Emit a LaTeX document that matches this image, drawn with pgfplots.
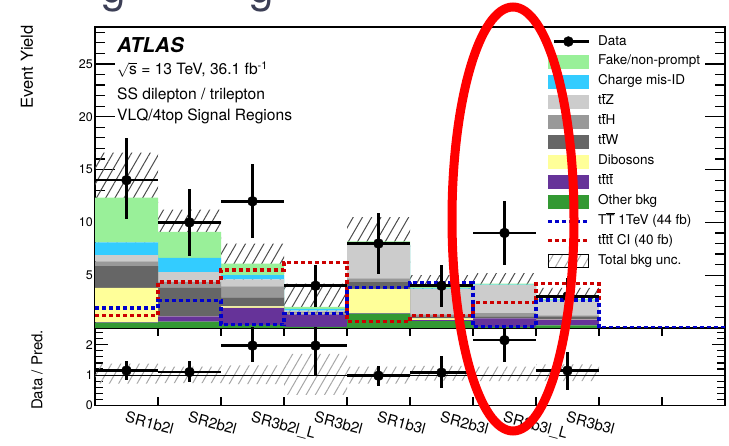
\documentclass[border=0pt]{standalone}
\usepackage{fontspec}
\setmainfont{TeX Gyre Heros}
\usepackage{pgfplots}
\pgfplotsset{compat=1.18}
\usepackage{pgfplotstable}
\usetikzlibrary{patterns.meta}
\usepgfplotslibrary{fillbetween}

\definecolor{cFake}{RGB}{153,240,153}
\definecolor{cQmis}{RGB}{51,204,255}
\definecolor{cttZ}{RGB}{204,204,204}
\definecolor{cttH}{RGB}{153,153,153}
\definecolor{cttW}{RGB}{102,102,102}
\definecolor{cDib}{RGB}{255,255,153}
\definecolor{cFour}{RGB}{102,51,153}
\definecolor{cOther}{RGB}{51,153,51}
\definecolor{cSigT}{RGB}{0,0,204}
\definecolor{cSigF}{RGB}{204,0,0}
\definecolor{titlegray}{RGB}{60,63,86}

% antiparticle bars
\newcommand{\tb}{\ensuremath{\overline{\mbox{t}}}}
\newcommand{\Tb}{\ensuremath{\overline{\mbox{T}}}}

% background yields per process (bin index in x, last row closes the step)
\pgfplotstableread{
x other four dib ttW ttH ttZ qmis fake
0 0.50 0.05 3.25 2.05 0.45 0.60 1.20 4.25
1 0.60 0.50 0.02 2.68 0.60 0.90 1.35 2.45
2 0.30 1.60 0.15 0.85 1.05 0.65 0.40 1.10
3 0.10 1.20 0.05 0.10 0.10 0.10 0.15 0.20
4 1.35 0.05 2.30 0.65 0.35 3.15 0.05 0.30
5 0.65 0.10 0.15 0.20 0.20 2.40 0.05 0.20
6 0.10 0.80 0.02 0.18 0.30 2.65 0.05 0.10
7 0.25 0.55 0.02 0.28 0.10 1.40 0.05 0.10
8 0.25 0.55 0.02 0.28 0.10 1.40 0.05 0.10
}\bkg

% total background uncertainty: yield band and ratio band
\pgfplotstableread{
x lo hi rlo rhi
0 8.1 16.6 0.72 1.38
1 7.0 11.2 0.74 1.28
2 4.2 8.0 0.70 1.32
3 0.7 4.2 0.35 1.70
4 5.9 10.5 0.72 1.28
5 2.9 5.0 0.82 1.30
6 3.2 5.2 0.80 1.28
7 1.7 3.8 0.80 1.35
8 1.7 3.8 0.80 1.35
}\unc

% signal hypotheses
\pgfplotstableread{
x TT tttt
0 1.90 1.20
1 2.60 4.35
2 0.30 5.50
3 1.35 6.20
4 3.80 0.65
5 4.30 1.20
6 0.15 2.40
7 2.65 4.20
8 0 0
9 0 0
10 0 0
}\sig

% observed events and data/prediction
\pgfplotstableread{
x y em ep r rem rep
0.5 14 3.7 4.0 1.15 0.31 0.31
1.5 10 3.15 3.2 1.10 0.33 0.35
2.5 12 3.45 3.5 1.97 0.55 0.60
3.5 4 2.0 2.0 1.97 0.97 0.60
4.5 8 2.85 2.9 0.98 0.33 0.33
5.5 4 2.0 1.95 1.08 0.52 0.55
6.5 9 3.0 3.05 2.15 0.71 0.39
7.5 3 1.7 1.7 1.15 0.64 0.62
}\obs

\pgfplotsset{
  panel/.style={
    scale only axis, width=630pt, xmin=0, xmax=10,
    axis line style={line width=1.3pt},
    tick style={line width=1.2pt, black},
    tick align=inside, xtick pos=both, ytick pos=both,
    ticklabel style={font=\fontsize{12.5}{15}\selectfont},
    /pgf/number format/assume math mode=true,
  },
  box/.style={legend image code/.code={\fill[#1] (0pt,-6.5pt) rectangle (40pt,6.5pt);}},
  dline/.style={legend image code/.code={\draw[#1] (0pt,0pt) -- (40pt,0pt);}},
}

\begin{document}
\begin{tikzpicture}[x=1pt,y=1pt]

% stacked backgrounds
\begin{axis}[panel, height=301pt, at={(95pt,117pt)}, anchor=south west,
  ymin=0, ymax=28.5, hide axis, stack plots=y, const plot]
\addplot[fill=cOther, draw=none] table[x=x,y=other]{\bkg} \closedcycle;
\addplot[fill=cFour, draw=none] table[x=x,y=four]{\bkg} \closedcycle;
\addplot[fill=cDib, draw=none] table[x=x,y=dib]{\bkg} \closedcycle;
\addplot[fill=cttW, draw=none] table[x=x,y=ttW]{\bkg} \closedcycle;
\addplot[fill=cttH, draw=none] table[x=x,y=ttH]{\bkg} \closedcycle;
\addplot[fill=cttZ, draw=none] table[x=x,y=ttZ]{\bkg} \closedcycle;
\addplot[fill=cQmis, draw=none] table[x=x,y=qmis]{\bkg} \closedcycle;
\addplot[fill=cFake, draw=none] table[x=x,y=fake]{\bkg} \closedcycle;
\end{axis}

% uncertainties, signals, data, frame and legend
\begin{axis}[panel, height=301pt, at={(95pt,117pt)}, anchor=south west,
  ymin=0, ymax=28.5,
  ytick={0,5,...,25}, yticklabels={,5,10,15,20,25},
  minor ytick={0,...,28}, xtick=\empty, minor xtick={0,...,10},
  major tick length=20pt, minor tick length=10pt,
  yticklabel style={inner sep=2pt},
  legend style={at={(0.716,0.974)}, anchor=north west, draw=none, fill=none,
    inner sep=0pt, row sep=6.6pt, column sep=8pt,
    font=\fontsize{13.5}{16}\selectfont,
    nodes={inner sep=0pt, text height=10pt, text depth=3pt}},
  legend cell align=left]
\addlegendimage{legend image code/.code={\draw[black,line width=2.6pt] (6pt,0pt)--(41pt,0pt); \fill[black] (20.5pt,0pt) circle (5pt);}}
\addlegendentry{Data}
\addlegendimage{box=cFake}\addlegendentry{Fake/non-prompt}
\addlegendimage{box=cQmis}\addlegendentry{Charge mis-ID}
\addlegendimage{box=cttZ}\addlegendentry{t\tb Z}
\addlegendimage{box=cttH}\addlegendentry{t\tb H}
\addlegendimage{box=cttW}\addlegendentry{t\tb W}
\addlegendimage{box=cDib}\addlegendentry{Dibosons}
\addlegendimage{box=cFour}\addlegendentry{t\tb t\tb}
\addlegendimage{box=cOther}\addlegendentry{Other bkg}
\addlegendimage{dline={cSigT,line width=3.2pt,dash pattern=on 4pt off 3pt}}\addlegendentry{T\Tb\ 1TeV (44 fb)}
\addlegendimage{dline={cSigF,line width=3.2pt,dash pattern=on 4pt off 3pt}}\addlegendentry{t\tb t\tb\ CI (40 fb)}
\addlegendimage{legend image code/.code={\fill[pattern={Lines[angle=60,distance=8pt,line width=1pt]}, pattern color=black!35] (0pt,-6.5pt) rectangle (40pt,6.5pt);}}
\addlegendentry{Total bkg unc.}

\addplot[draw=none, name path=uhi, const plot, forget plot] table[x=x,y=hi]{\unc};
\addplot[draw=none, name path=ulo, const plot, forget plot] table[x=x,y=lo]{\unc};
\addplot[pattern={Lines[angle=60,distance=8pt,line width=1pt]}, pattern color=black!70, forget plot] fill between[of=uhi and ulo];

\addplot[const plot, cSigF, line width=3.2pt, dash pattern=on 4pt off 3pt, forget plot] table[x=x,y=tttt]{\sig};
\addplot[const plot, cSigT, line width=3.2pt, dash pattern=on 4pt off 3pt, forget plot] table[x=x,y=TT]{\sig};

\addplot[only marks, mark=*, mark size=5pt, black, forget plot,
  error bars/.cd, y dir=both, y explicit, x dir=both, x fixed=0.5,
  error mark=none, error bar style={line width=2.6pt}]
  table[x=x, y=y, y error plus=ep, y error minus=em]{\obs};
\end{axis}

% ratio panel
\begin{axis}[panel, height=77.5pt, at={(95pt,39.5pt)}, anchor=south west,
  ymin=0, ymax=2.55,
  ytick={0,1,2}, minor ytick={0,0.2,...,2.4},
  xtick={0.5,1.5,...,7.5},
  xticklabels={SR1b2l,SR2b2l,SR3b2l\_L,SR3b2l,SR1b3l,SR2b3l,SR3b3l\_L,SR3b3l},
  every major x tick/.append style={draw=none},
  minor xtick={0,...,10},
  major tick length=13pt, minor tick length=8pt,
  yticklabel style={inner sep=2pt},
  xticklabel style={font=\fontsize{15}{18}\selectfont, rotate=-15, anchor=north west, inner sep=0pt, yshift=-5pt, xshift=2pt}]
\addplot[draw=none, name path=rhi, const plot] table[x=x,y=rhi]{\unc};
\addplot[draw=none, name path=rlo, const plot] table[x=x,y=rlo]{\unc};
\addplot[pattern={Lines[angle=60,distance=8pt,line width=1pt]}, pattern color=black!35] fill between[of=rhi and rlo];
\addplot[black, line width=1.1pt] coordinates {(0,1) (10,1)};
\addplot[only marks, mark=*, mark size=5pt, black,
  error bars/.cd, y dir=both, y explicit, x dir=both, x fixed=0.5,
  error mark=none, error bar style={line width=2.6pt}]
  table[x=x, y=r, y error plus=rep, y error minus=rem]{\obs};
\end{axis}

% labels
\node[rotate=90, anchor=east, inner sep=0pt, font=\fontsize{16.5}{19}\selectfont] at (27pt,420pt) {Event Yield};
\node[rotate=90, inner sep=0pt, font=\fontsize{15}{18}\selectfont] at (37pt,75pt) {Data / Pred.};

\node[anchor=base west, inner sep=0pt, font=\fontsize{20.5}{24}\selectfont\bfseries\itshape] at (117pt,392.7pt) {ATLAS};
\node[anchor=base west, inner sep=0pt, font=\fontsize{15.6}{18}\selectfont] at (117pt,370pt) {$\sqrt{\mbox{s}}$ = 13 TeV, 36.1 fb\textsuperscript{-1}};
\node[anchor=base west, inner sep=0pt, font=\fontsize{15.6}{18}\selectfont] at (117pt,345.7pt) {SS dilepton / trilepton};
\node[anchor=base west, inner sep=0pt, font=\fontsize{15.6}{18}\selectfont] at (117pt,324pt) {VLQ/4top Signal Regions};

% heading above the figure, only its descenders fall inside
\node[anchor=base west, inner sep=0pt, text=titlegray, font=\fontsize{44}{50}\selectfont] at (101pt,442pt) {g};
\node[anchor=base west, inner sep=0pt, text=titlegray, font=\fontsize{44}{50}\selectfont] at (249pt,442pt) {g};

% highlighted region
\draw[red, line width=9pt] (513pt,226pt) ellipse [x radius=61pt, y radius=212pt];

\pgfresetboundingbox
\useasboundingbox (0,0) rectangle (729pt,445pt);
\end{tikzpicture}
\end{document}
